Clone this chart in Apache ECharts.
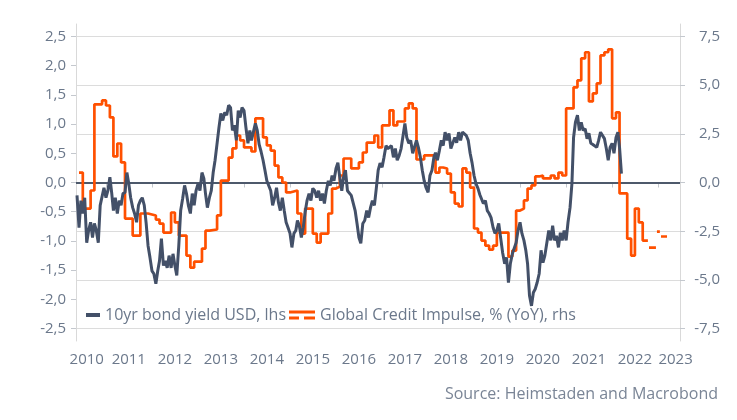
<!DOCTYPE html>
<html>
<head>
<meta charset="utf-8">
<script src="https://cdn.jsdelivr.net/npm/echarts@6/dist/echarts.min.js"></script>
<style>
  html, body { margin: 0; padding: 0; background: #fff; }
  #chart { width: 737px; height: 420px; }
</style>
</head>
<body>
<div id="chart"></div>
<script>
// 10yr bond yield USD (lhs), read every half month starting 16 May 2010
const yieldValues = [
  -0.22, -0.77, -0.31, -0.53, -0.26, -1.03, -0.82, -0.68, -0.94, -0.70,
  -0.82, -1.03, -0.39, -0.39, -0.09, -0.26, -0.14, 0.09, -0.19, -0.48,
  -0.26, -0.53, -0.31, -0.39, -0.19, -0.17, 0.17, -0.02, -0.26, -0.43,
  -0.53, -0.68, -0.39, -0.31, -0.26, -0.39, -0.70, -1.08, -1.28, -1.51,
  -1.56, -1.73, -1.51, -1.34, -0.96, -1.42, -1.34, -1.46, -1.25, -1.46,
  -1.22, -1.42, -1.59, -1.08, -0.48, -0.27, -0.05, -0.19, -0.39, -0.53,
  -0.19, -0.39, -0.14, -0.02, -0.14, 0.17, 0.07, -0.19, -0.43, -0.26,
  -0.14, 0.17, 0.38, 0.67, 0.94, 1.18, 1.06, 1.20, 1.15, 1.32,
  1.28, 0.89, 0.98, 0.72, 1.23, 1.11, 1.28, 1.23, 0.94, 0.67,
  0.89, 0.72, 0.86, 1.01, 0.89, 0.65, 0.53, 0.38, 0.21, 0.03,
  0.00, -0.14, -0.39, -0.26, -0.09, -0.34, -0.48, -0.26, -0.48, -0.68,
  -0.77, -0.87, -1.11, -0.87, -0.82, -0.65, -0.74, -0.94, -0.77, -0.51,
  -0.31, -0.19, -0.31, -0.10, -0.14, -0.26, -0.14, -0.31, -0.19, -0.36,
  -0.14, 0.03, -0.05, 0.12, 0.03, 0.24, 0.34, 0.07, -0.14, 0.09,
  0.21, -0.14, -0.17, -0.22, -0.19, -0.48, -0.70, -0.94, -1.04, -0.70,
  -0.65, -0.48, -0.60, -0.43, -0.31, -0.39, -0.10, 0.21, 0.33, 0.26,
  0.43, 0.63, 0.58, 0.55, 0.63, 0.43, 0.58, 0.38, 0.46, 0.58,
  0.55, 1.01, 0.77, 0.67, 0.72, 0.50, 0.51, 0.72, 0.60, 0.43,
  0.21, 0.03, -0.09, -0.17, 0.12, 0.21, 0.43, 0.51, 0.38, 0.55,
  0.72, 0.63, 0.86, 0.72, 0.84, 0.58, 0.55, 0.77, 0.68, 0.86,
  0.72, 0.86, 0.89, 0.80, 0.72, 0.50, 0.34, 0.12, -0.02, -0.10,
  -0.21, -0.19, -0.36, -0.31, -0.48, -0.53, -0.60, -0.77, -0.87, -0.82,
  -0.70, -0.96, -1.20, -1.39, -1.28, -1.71, -1.39, -1.22, -1.20, -1.03,
  -0.82, -0.68, -0.87, -0.99, -1.16, -1.39, -1.93, -2.11, -1.88, -1.82,
  -1.71, -1.56, -1.16, -1.37, -1.25, -1.03, -0.82, -0.99, -0.74, -0.99,
  -0.91, -1.11, -0.86, -0.99, -0.82, -0.99, -0.68, -0.43, -0.02, 0.77,
  1.03, 1.15, 0.89, 1.03, 0.89, 0.92, 0.75, 0.84, 0.67, 0.65,
  0.67, 0.60, 0.72, 0.86, 0.89, 0.75, 0.58, 0.38, 0.60, 0.67,
  0.50, 0.77, 0.86, 0.60, 0.15
]

// Global Credit Impulse, % (YoY) (rhs): value holds from each date to the next
const creditDates = [
  '2010-06-01', '2010-07-01', '2010-09-01', '2010-10-01', '2010-12-01',
  '2011-01-01', '2011-02-01', '2011-03-01', '2011-04-01', '2011-05-01',
  '2011-06-01', '2011-08-01', '2011-10-01', '2011-12-01', '2012-02-01',
  '2012-03-01', '2012-04-01', '2012-06-01', '2012-07-01', '2012-08-01',
  '2012-10-01', '2012-11-01', '2012-12-01', '2013-02-01', '2013-03-01',
  '2013-04-01', '2013-06-01', '2013-07-01', '2013-09-01', '2013-10-01',
  '2013-11-01', '2013-12-01', '2014-01-01', '2014-03-01', '2014-04-01',
  '2014-06-01', '2014-07-01', '2014-08-01', '2014-09-01', '2014-10-01',
  '2014-11-01', '2014-12-01', '2015-01-01', '2015-03-01', '2015-04-01',
  '2015-05-01', '2015-07-01', '2015-08-01', '2015-09-01', '2015-11-01',
  '2015-12-01', '2016-01-01', '2016-02-01', '2016-03-01', '2016-05-01',
  '2016-07-01', '2016-08-01', '2016-09-01', '2016-11-01', '2016-12-01',
  '2017-01-01', '2017-03-01', '2017-04-01', '2017-05-01', '2017-07-01',
  '2017-08-01', '2017-09-01', '2017-10-01', '2017-12-01', '2018-03-01',
  '2018-04-01', '2018-05-01', '2018-06-01', '2018-07-01', '2018-08-01',
  '2018-09-01', '2018-10-01', '2018-11-01', '2018-12-01', '2019-01-01',
  '2019-02-01', '2019-03-01', '2019-04-01', '2019-05-01', '2019-06-01',
  '2019-07-01', '2019-10-01', '2019-11-01', '2019-12-01', '2020-01-01',
  '2020-02-01', '2020-03-01', '2020-04-01', '2020-05-01', '2020-06-01',
  '2020-07-01', '2020-09-01', '2020-10-01', '2020-11-01', '2020-12-01',
  '2021-01-01', '2021-03-01', '2021-04-01', '2021-05-01', '2021-06-01',
  '2021-07-01', '2021-08-01', '2021-09-01', '2021-10-01', '2021-11-01',
  '2021-12-01', '2022-01-01', '2022-02-01', '2022-03-01', '2022-05-01',
  '2022-06-01', '2022-07-01', '2022-08-01', '2022-09-01', '2022-10-05',
  '2022-10-12', '2022-10-21', '2022-12-07', '2022-12-15', '2022-12-23',
  '2023-01-08', '2023-01-15', '2023-01-24', '2023-03-13'
]
const creditValues = [
  0.51, -1.34, -0.41, 4.01, 4.21,
  3.95, 3.34, 1.34, 2.00, 1.03,
  -1.85, -2.72, -1.59, -1.69, -1.90,
  -2.11, -2.57, -1.54, -2.05, -2.72,
  -3.75, -4.37, -4.06, -3.39, -2.47,
  -2.41, -1.69, 0.10, 1.28, 1.75,
  2.41, 2.16, 1.80, 1.59, 3.29,
  2.31, 1.90, 1.64, 0.87, 0.26,
  0.00, -0.51, -0.41, -1.59, -2.62,
  -1.34, -2.62, -3.08, -2.62, -1.59,
  -0.31, -0.21, 0.36, 1.23, 0.72,
  1.03, 1.54, 2.05, 2.41, 1.80,
  2.93, 3.70, 2.93, 3.13, 3.80,
  4.06, 3.80, 1.18, 1.39, 0.51,
  0.77, 0.72, 0.46, -0.51, -1.08,
  -1.23, 0.72, 0.51, -0.26, -2.36,
  -2.57, -2.98, -3.24, -3.44, -3.24,
  -2.57, -3.80, -3.49, -1.44, -1.34,
  -0.92, -0.31, -0.15, 0.31, 0.36,
  0.21, 0.36, 0.21, 0.51, 0.36,
  3.80, 4.88, 5.24, 6.37, 6.68,
  4.16, 4.57, 5.08, 6.52, 6.68,
  6.83, 3.29, 3.60, -0.56, -2.88,
  -3.75, -1.34, -2.05, -2.98, -2.98,
  null, -3.34, -3.34, null, -2.52,
  -2.52, null, -2.77, -2.77
]

const leftTicks = [-2.5, -2, -1.5, -1, -0.5, 0, 0.5, 1, 1.5, 2, 2.5]
const rightTicks = [-7.5, -5, -2.5, 0, 2.5, 5, 7.5]
const yearTicks = [2011, 2012, 2013, 2014, 2015, 2016, 2017, 2018, 2019, 2020, 2021, 2022, 2023]
const yearLabels = ['2010-08-01', '2011-07-01', '2012-07-01', '2013-07-01', '2014-07-01',
  '2015-07-01', '2016-07-01', '2017-07-01', '2018-07-01', '2019-07-01',
  '2020-07-01', '2021-07-01', '2022-07-01', '2023-05-20']

const FONT = 'Open Sans'
const TEXT = '#6b788b'
const FRAME = '#d9d9d9'

function day(d) {
  return new Date(d + 'T00:00:00').getTime()
}
function halfMonth(k) {
  return new Date(2010, 4 + Math.floor((k + 1) / 2), k % 2 === 0 ? 16 : 1).getTime()
}
function comma(v) {
  return v.toFixed(1).replace('.', ',')
}

const yieldData = yieldValues.map((v, k) => [halfMonth(k), v])
const creditData = creditDates.map((d, i) => [day(d), creditValues[i]])

const chart = echarts.init(document.getElementById('chart'))
const option = {
  animation: false,
  textStyle: { fontFamily: FONT },
  grid: { left: 76, right: 57, top: 24, bottom: 79 },
  title: {
    text: 'Source: Heimstaden and Macrobond',
    right: 14, top: 381,
    textStyle: { fontFamily: FONT, fontSize: 16, fontWeight: 'normal', color: '#7a8596' }
  },
  legend: [
    {
      left: 86, top: 307, padding: 0,
      itemWidth: 14, itemHeight: 4, itemGap: 0,
      icon: 'rect',
      textStyle: { fontFamily: FONT, fontSize: 16, color: TEXT },
      data: ['10yr bond yield USD, lhs']
    },
    {
      left: 289, top: 307, padding: 0,
      itemWidth: 26, itemHeight: 9, itemGap: 0,
      icon: 'path://M0,0h26v3h-26z M0,6h10v3h-10z M15,6h11v3h-11z',
      textStyle: { fontFamily: FONT, fontSize: 16, color: TEXT },
      data: ['Global Credit Impulse, % (YoY), rhs']
    }
  ],
  xAxis: {
    type: 'value',
    min: day('2010-05-08'),
    max: day('2023-06-24'),
    axisLine: { lineStyle: { color: FRAME, width: 1 } },
    axisTick: {
      show: true, length: 5, lineStyle: { color: '#c4c8ce' },
      customValues: yearTicks.map(y => new Date(y, 0, 1).getTime())
    },
    axisLabel: {
      margin: 11, fontSize: 15, color: TEXT, fontFamily: FONT,
      customValues: yearLabels.map(day),
      formatter: v => String(new Date(v).getFullYear())
    },
    splitLine: { show: false }
  },
  yAxis: [
    {
      type: 'value', position: 'left',
      min: -2.71, max: 2.71,
      axisLine: { show: true, lineStyle: { color: FRAME } },
      axisTick: { show: true, length: 5, lineStyle: { color: '#c4c8ce' }, customValues: leftTicks },
      axisLabel: { customValues: leftTicks, margin: 10, fontSize: 15, color: TEXT, fontFamily: FONT, formatter: comma },
      splitLine: { show: false }
    },
    {
      type: 'value', position: 'right',
      min: -8.13, max: 8.13,
      axisLine: { show: true, lineStyle: { color: FRAME } },
      axisTick: { show: true, length: 5, lineStyle: { color: '#c4c8ce' }, customValues: rightTicks },
      axisLabel: { customValues: rightTicks, align: 'right', margin: 40, fontSize: 15, color: TEXT, fontFamily: FONT, formatter: comma },
      splitLine: { show: true, lineStyle: { color: '#dcdcdc', width: 1 } }
    }
  ],
  series: [
    {
      name: 'Global Credit Impulse, % (YoY), rhs',
      type: 'line',
      yAxisIndex: 1,
      step: 'end',
      showSymbol: false,
      connectNulls: false,
      color: '#ff5000',
      lineStyle: { width: 2.7, color: '#ff5000' },
      z: 3,
      data: creditData,
      markLine: {
        silent: true, symbol: ['none', 'none'], z: 1,
        label: { show: false },
        lineStyle: { color: '#4d596b', width: 2, type: 'solid' },
        data: [{ yAxis: 0 }]
      }
    },
    {
      name: '10yr bond yield USD, lhs',
      type: 'line',
      yAxisIndex: 0,
      showSymbol: false,
      color: '#435068',
      lineStyle: { width: 3, color: '#435068' },
      z: 4,
      data: yieldData
    }
  ]
}
chart.setOption(option)
</script>
</body>
</html>
